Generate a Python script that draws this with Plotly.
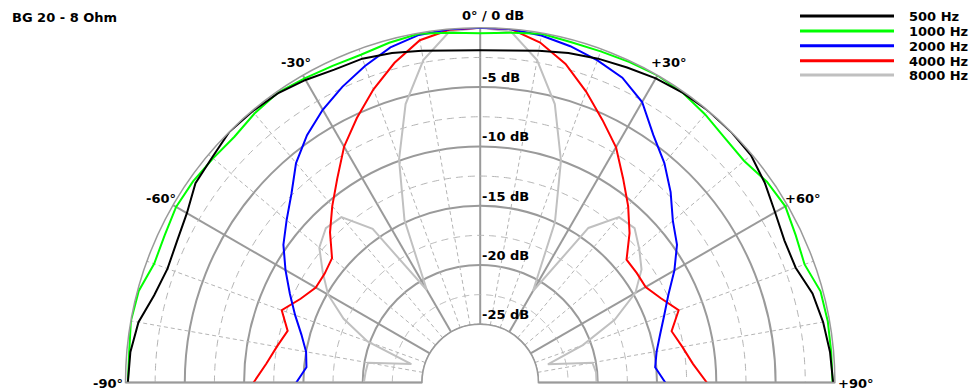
import math
import plotly.graph_objects as go

# ---------------------------------------------------------------------------
# Polar response data (dB, relative) sampled every 5 degrees
# ---------------------------------------------------------------------------
angles = list(range(-90, 91, 5))

spl_500 = [-0.2, -0.3, -0.65, -1.45, -1.85, -1.7, -1.35, -0.6, -0.4, 0.0,
           -0.05, -0.15, -0.45, -0.8, -0.85, -1.15, -1.5, -1.8, -1.9,
           -1.8, -1.5, -1.15, -0.85, -0.6, -0.3, -0.1, 0.0, 0.0, -0.1,
           -0.6, -1.2, -1.6, -1.6, -0.9, -0.55, -0.3, -0.15]

spl_1000 = [-0.2, -0.2, 0.0, -0.1, -0.65, -0.55, -0.3, -0.35, -0.5, -0.6,
            -0.3, -0.1, -0.3, -0.45, -0.5, -0.25, -0.05, -0.3, -0.45,
            -0.3, -0.05, -0.2, -0.2, -0.1, 0.0, -0.1, -0.4, -0.75, -0.85,
            -0.4, -0.2, -0.55, -0.8, -0.2, -0.15, -0.2, -0.2]

spl_2000 = [-14.4, -15.2, -15.0, -14.3, -13.3, -12.2, -10.95, -9.65, -8.6, -7.4,
            -5.75, -4.45, -3.35, -2.4, -1.5, -0.65, -0.15, 0.0, 0.0,
            0.0, -0.2, -0.55, -1.0, -1.55, -2.6, -4.45, -5.75, -7.2, -8.7,
            -9.65, -11.0, -12.4, -13.4, -14.2, -14.8, -15.1, -14.3]

spl_4000 = [-10.8, -11.8, -12.5, -13.1, -12.1, -13.2, -13.9, -13.9, -13.6, -12.0,
            -10.5, -8.9, -6.95, -5.3, -3.6, -2.0, -0.6, -0.05, 0.0,
            0.0, -0.8, -2.1, -3.8, -5.5, -7.0, -8.9, -10.5, -12.1, -13.8,
            -13.8, -13.8, -13.1, -12.1, -13.2, -12.6, -11.9, -10.8]

spl_8000 = [-20.1, -20.2, -20.3, -23.9, -19.8, -17.2, -15.1, -13.7, -12.2, -11.5,
            -11.7, -14.1, -20.9, -14.8, -9.9, -5.6, -2.3, -0.2, 0.0,
            -0.2, -2.3, -5.6, -10.0, -15.0, -21.0, -14.0, -11.7, -11.5, -12.4,
            -13.3, -14.8, -17.4, -20.7, -24.0, -20.3, -20.1, -20.1]

freq_labels = ["500 Hz", "1000 Hz", "2000 Hz", "4000 Hz", "8000 Hz"]
freq_colors = ["#000000", "#00ff00", "#0000ff", "#ff0000", "#c0c0c0"]
freq_values = [spl_500, spl_1000, spl_2000, spl_4000, spl_8000]

ring_major = [-20, -15, -10, -5]
ring_labels = [-5, -10, -15, -20, -25]
ring_minor = [-22.5, -17.5, -12.5, -7.5, -2.5]
spoke_major = [-90, -60, -30, 0, 30, 60, 90]
spoke_minor = [-80, -70, -50, -40, -20, -10, 10, 20, 40, 50, 70, 80]
angle_texts = {-90: "-90°", -60: "-60°", -30: "-30°",
               30: "+30°", 60: "+60°", 90: "+90°"}

R_MIN, R_MAX = -25, 0

# ---------------------------------------------------------------------------
# Page geometry (pixels)
# ---------------------------------------------------------------------------
W, H = 970, 392
CX, CY = 480.2, 382.5          # centre of the half circle
R_OUT, R_IN = 354.7, 58.2      # outer radius and hole radius
HOLE = R_IN / R_OUT

FONT = dict(family="DejaVu Sans", size=13, color="#000000")
GRID = "#9a9a9a"
GRID_DASH = "#b4b4b4"


def px_point(theta, r_db):
    """Pixel position of (theta, r) on the half circle."""
    rp = R_IN + (r_db - R_MIN) / (R_MAX - R_MIN) * (R_OUT - R_IN)
    t = math.radians(theta)
    return CX + rp * math.sin(t), CY - rp * math.cos(t)


def paper(x, y):
    return x / W, 1 - y / H


fig = go.Figure()

# minor dashed rings
ring_theta = [t / 2 for t in range(-180, 181)]
for rv in ring_minor:
    fig.add_trace(go.Scatterpolar(
        r=[rv] * len(ring_theta), theta=ring_theta, mode="lines",
        line=dict(color=GRID_DASH, width=1, dash="7px,5px"),
        hoverinfo="skip", showlegend=False))

# minor dashed spokes
for a in spoke_minor:
    fig.add_trace(go.Scatterpolar(
        r=[R_MIN, R_MAX], theta=[a, a], mode="lines",
        line=dict(color=GRID_DASH, width=1, dash="4px,3px"),
        hoverinfo="skip", showlegend=False))

# inner edge of the chart
fig.add_trace(go.Scatterpolar(
    r=[R_MIN] * len(ring_theta), theta=ring_theta, mode="lines",
    line=dict(color=GRID, width=1.5),
    hoverinfo="skip", showlegend=False))

# response curves (light ones first)
for name, vals, col in reversed(list(zip(freq_labels, freq_values, freq_colors))):
    fig.add_trace(go.Scatterpolar(
        r=vals, theta=angles, mode="lines", name=name,
        line=dict(color=col, width=2), showlegend=False))

# domain of the polar subplot
x0, y_top = paper(CX - R_OUT, CY - R_OUT)
x1, y_bot = paper(CX + R_OUT, CY)

fig.update_layout(
    width=W, height=H, autosize=False,
    margin=dict(l=0, r=0, t=0, b=0),
    paper_bgcolor="white",
    showlegend=False,
    polar=dict(
        domain=dict(x=[x0, x1], y=[y_bot, y_top]),
        sector=[0, 180],
        hole=HOLE,
        bgcolor="white",
        radialaxis=dict(range=[R_MIN, R_MAX], tickmode="array", tickvals=ring_major,
                        showticklabels=False, ticks="", showline=False,
                        gridcolor=GRID, gridwidth=1.5),
        angularaxis=dict(rotation=90, direction="clockwise", tickmode="array",
                         tickvals=spoke_major, showticklabels=False, ticks="",
                         showline=True, linecolor=GRID, linewidth=1.5,
                         gridcolor=GRID, gridwidth=1.5),
    ),
)

annotations = []


def label(text, x, y, xanchor, yanchor="middle"):
    px_, py_ = paper(x, y)
    annotations.append(dict(text="<b>%s</b>" % text, x=px_, y=py_, xref="paper", yref="paper",
                            xanchor=xanchor, yanchor=yanchor, showarrow=False,
                            font=FONT, borderpad=0))


# dB labels along the 0 degree spoke
for rv in ring_labels:
    x, y = px_point(0, rv)
    label("%d dB" % rv, x + 1, y - 1, "left", "bottom")

# top label
x, y = px_point(0, R_MAX)
label("0° / 0 dB", x - 19, y - 12, "left")

# angle labels around the rim
for a, txt in angle_texts.items():
    x, y = px_point(a, R_MAX)
    if abs(a) == 30:
        dx, dy = 9, -12.8
    elif abs(a) == 60:
        dx, dy = 4, -6.5
    else:
        dx, dy = -1, 0.5
    if a < 0:
        label(txt, x + dx, y + dy, "right")
    else:
        label(txt, x - dx + 1, y + dy, "left")

# title
label("BG 20 - 8 Ohm", 11, 17.5, "left")

# legend
shapes = []
legend_rows = [16, 31, 45.7, 60.7, 75]
for name, col, ly in zip(freq_labels, freq_colors, legend_rows):
    lx0, lyp = paper(800, ly)
    lx1, _ = paper(894, ly)
    shapes.append(dict(type="line", xref="paper", yref="paper", x0=lx0, x1=lx1,
                       y0=lyp, y1=lyp, line=dict(color=col, width=3)))
    label(name, 908, ly + 0.5, "left")

fig.update_layout(annotations=annotations, shapes=shapes)

fig.write_html("out.html", config=dict(displayModeBar=False))
